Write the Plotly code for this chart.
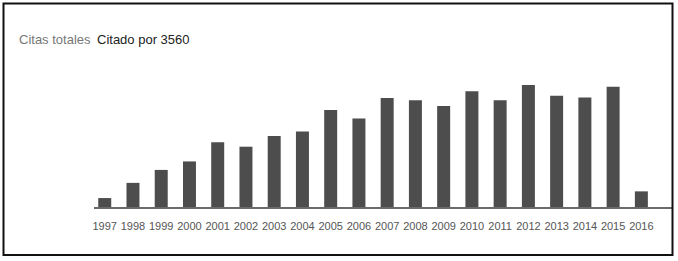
import plotly.graph_objects as go

years = ["1997", "1998", "1999", "2000", "2001", "2002", "2003", "2004", "2005", "2006",
         "2007", "2008", "2009", "2010", "2011", "2012", "2013", "2014", "2015", "2016"]
citations = [20, 54, 83, 102, 145, 135, 159, 169, 217, 198,
             244, 239, 226, 259, 239, 273, 249, 245, 269, 35]
label_left = "Citas totales"
label_right = "Citado por 3560"

W, H = 678, 261
ML, MR, MT, MB = 94, 5, 74, 54
pw = W - ML - MR
ph = H - MT - MB

def px_x(x):
    return (x - ML) / pw

def px_y(y):
    return (H - MB - y) / ph

FONT = "Liberation Sans, Arial, sans-serif"

fig = go.Figure(go.Bar(
    x=list(range(len(years))), y=citations,
    marker=dict(color="#4d4d4d", line=dict(width=0)),
    width=0.46, hoverinfo="skip",
))

fig.update_layout(
    width=W, height=H,
    margin=dict(l=ML, r=MR, t=MT, b=MB),
    paper_bgcolor="white", plot_bgcolor="white",
    showlegend=False,
    font=dict(family=FONT),
    xaxis=dict(
        range=[-0.38, 20.12],
        tickmode="array", tickvals=list(range(len(years))), ticktext=years,
        tickangle=0,
        showgrid=False, zeroline=False,
        showline=True, linecolor="#6a6a6a", linewidth=1.5,
        ticks="outside", ticklen=8, tickcolor="rgba(0,0,0,0)",
        tickfont=dict(family=FONT, size=11, color="#555555"),
        fixedrange=True,
    ),
    yaxis=dict(
        range=[0, 297.7], visible=False, fixedrange=True,
    ),
    annotations=[
        dict(text=label_left, x=px_x(17), y=px_y(40), xref="paper", yref="paper",
             xanchor="left", yanchor="middle", showarrow=False,
             font=dict(family=FONT, size=13, color="#777777")),
        dict(text=label_right, x=px_x(95), y=px_y(40), xref="paper", yref="paper",
             xanchor="left", yanchor="middle", showarrow=False,
             font=dict(family=FONT, size=13, color="#222222")),
    ],
    shapes=[
        dict(type="rect", xref="paper", yref="paper",
             x0=px_x(3.5), x1=px_x(672.5), y0=px_y(255), y1=px_y(3.5),
             line=dict(color="#111111", width=2), fillcolor="rgba(0,0,0,0)", layer="above"),
    ],
)

fig.write_html("out.html", config={"displayModeBar": False},
               post_script="document.body.style.margin='0';")
